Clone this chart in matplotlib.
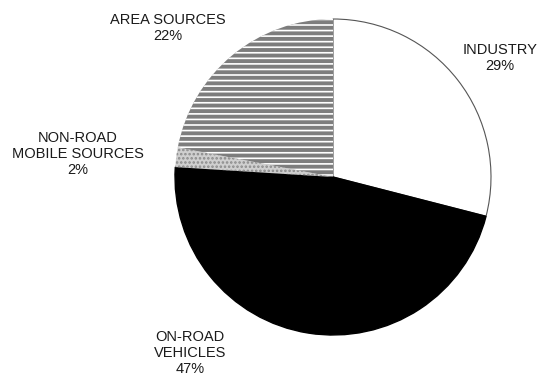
import matplotlib
matplotlib.use('Agg')
from matplotlib import pyplot

# emission shares, clockwise from 12 o'clock
sources = ['INDUSTRY', 'ON-ROAD\nVEHICLES', 'NON-ROAD\nMOBILE SOURCES', 'AREA SOURCES']
shares = [29, 47, 2, 22]


def main():
    pyplot.rcParams['font.family'] = ['Liberation Sans', 'DejaVu Sans']
    pyplot.rcParams['hatch.linewidth'] = 1.2

    fig = pyplot.figure(figsize=(5.4, 3.77), dpi=100)
    ax = fig.add_axes([0, 0, 1, 1])

    wedges, _ = ax.pie(shares, startangle=90, counterclock=False,
                       center=(333, 200), radius=158, frame=True)

    # industry: white with thin outline
    wedges[0].set_facecolor('white')
    wedges[0].set_edgecolor('#555555')
    wedges[0].set_linewidth(0.8)
    # on-road: solid black
    wedges[1].set_facecolor('black')
    wedges[1].set_edgecolor('black')
    # non-road: dotted light grey
    wedges[2].set_facecolor('#cfcfcf')
    wedges[2].set_edgecolor('#8a8a8a')
    wedges[2].set_hatch('....')
    wedges[2].set_linewidth(0)
    # area: horizontal stripes
    wedges[3].set_facecolor('#7d7d7d')
    wedges[3].set_edgecolor('white')
    wedges[3].set_hatch('---')
    wedges[3].set_linewidth(0)

    ax.set_xlim(0, 540)
    ax.set_ylim(0, 377)
    ax.set_aspect('equal')
    ax.axis('off')

    # label positions in pixel coords (y from top)
    label_pos = [(500, 58), (190, 353), (78, 154), (168, 28)]
    for name, share, (x, y) in zip(sources, shares, label_pos):
        ax.text(x, 377 - y, '%s\n%d%%' % (name, share), ha='center', va='center',
                fontsize=10.5, color='#1a1a1a', linespacing=1.2)

    pyplot.savefig('out.png', dpi=100)


if __name__ == '__main__':
    main()
